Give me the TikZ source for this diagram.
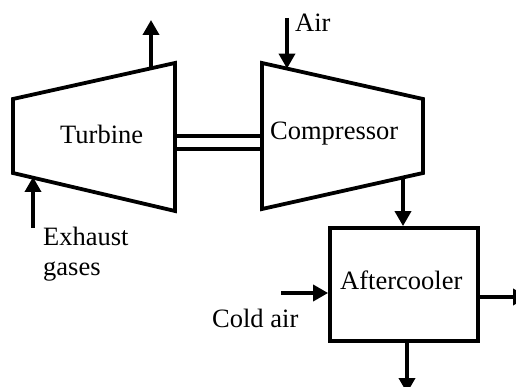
\documentclass[tikz,border=0pt]{standalone}
\usepackage{fontspec}
\setmainfont{Liberation Serif}
\usetikzlibrary{arrows.meta}
\begin{document}
\begin{tikzpicture}[x=1pt,y=-1pt,
  part/.style={line width=3.8pt,line join=miter},
  flow/.style={line width=3.6pt,-{Triangle[length=15pt,width=16pt]}},
  shaft/.style={line width=3.6pt},
  lbl/.style={font=\fontsize{26.5}{30}\selectfont,inner sep=0pt,anchor=base west}]
\clip (0,0) rectangle (516,387);
\fill[white] (0,0) rectangle (516,387);
% turbine corners
\coordinate (t1) at (13,99);
\coordinate (t2) at (175,63);
\coordinate (t3) at (175,211);
\coordinate (t4) at (13,173);
\draw[part] (t1) -- (t2) -- (t3) -- (t4) -- cycle;
% compressor corners
\coordinate (c1) at (262,63);
\coordinate (c2) at (423,99);
\coordinate (c3) at (423,173);
\coordinate (c4) at (262,209);
\draw[part] (c1) -- (c2) -- (c3) -- (c4) -- cycle;
% aftercooler
\node[part,draw,minimum width=148pt,minimum height=113pt,inner sep=0pt] (ac) at (404,284.5) {};
% shaft
\coordinate (s1a) at (175,136); \coordinate (s1b) at (262,136);
\coordinate (s2a) at (175,149); \coordinate (s2b) at (262,149);
\draw[shaft] (s1a) -- (s1b);
\draw[shaft] (s2a) -- (s2b);
% labels
\node[lbl] (turb) at (60,144) {Turbine};
\node[lbl] (comp) at (270,140) {Compressor};
\node[lbl] (air) at (295,32) {Air};
\node[lbl] (aft) at (340,289) {Aftercooler};
\node[lbl] (cold) at (212,327) {Cold air};
\node[lbl] (exh) at (43,245) {Exhaust};
\node[lbl] (gas) at (43,275) {gases};
% flow coordinates
\coordinate (te) at (151,68.3);
\coordinate (teo) at (151,20);
\coordinate (ein) at (33,228);
\coordinate (eon) at (33,177);
\coordinate (ain) at (287,18);
\coordinate (aon) at (287,68.6);
\coordinate (cout) at (403,177.5);
\coordinate (rout) at (528,297);
\coordinate (bout) at (407,393);
\coordinate (cin) at (281,293);
% flows
\draw[flow] (te) -- (teo);
\draw[flow] (ein) -- (eon);
\draw[flow] (ain) -- (aon);
\draw[flow] (cout) -- (ac.north -| cout);
\draw[flow] (cin) -- (ac.west |- cin);
\draw[flow] (ac.east |- rout) -- (rout);
\draw[flow] (ac.south -| bout) -- (bout);
\end{tikzpicture}
\end{document}
